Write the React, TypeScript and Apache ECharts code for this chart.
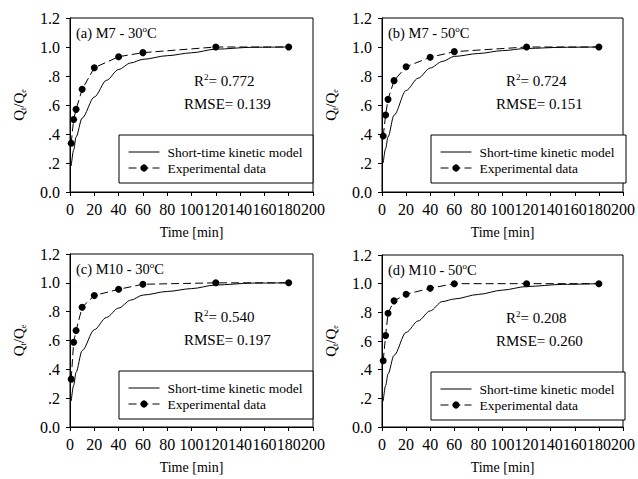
import React, { useEffect, useRef } from "react";
import * as echarts from "echarts";

const timeExp = [1, 3, 5, 10, 20, 40, 60, 120, 180];
const expA = [0.336, 0.5, 0.57, 0.708, 0.857, 0.933, 0.961, 1.0, 1.0];
const expB = [0.386, 0.531, 0.639, 0.768, 0.864, 0.929, 0.968, 1.0, 1.0];
const expC = [0.332, 0.588, 0.669, 0.831, 0.912, 0.955, 0.99, 1.0, 1.0];
const expD = [0.462, 0.638, 0.794, 0.88, 0.926, 0.968, 1.0, 1.0, 1.0];

const timeModel = [1, 3, 5, 10, 20, 30, 40, 50, 60, 80, 100, 120, 150, 180];
const modelA = [0.18, 0.29, 0.38, 0.51, 0.655, 0.77, 0.845, 0.89, 0.915, 0.94, 0.96, 0.985, 0.998, 1.0];
const modelB = [0.2, 0.3, 0.38, 0.53, 0.7, 0.785, 0.855, 0.9, 0.935, 0.955, 0.975, 0.99, 0.998, 1.0];
const modelC = [0.18, 0.29, 0.38, 0.53, 0.675, 0.76, 0.825, 0.88, 0.915, 0.94, 0.96, 0.985, 0.998, 1.0];
const modelD = [0.18, 0.29, 0.37, 0.5, 0.66, 0.74, 0.81, 0.875, 0.893, 0.925, 0.955, 0.98, 0.995, 1.0];

const panelLabels = ["(a) M7 - 30", "(b) M7 - 50", "(c) M10 - 30", "(d) M10 - 50"];
const r2Values = ["0.772", "0.724", "0.540", "0.208"];
const rmseValues = ["0.139", "0.151", "0.197", "0.260"];
const xTicks = { min: 0, max: 200, interval: 20 };
const yTicks = { min: 0, max: 1.2, interval: 0.2 };
const seriesNames = ["Short-time kinetic model", "Experimental data"];

const expSets = [expA, expB, expC, expD];
const modelSets = [modelA, modelB, modelC, modelD];

const FONT = "Liberation Serif";

const grids = [
  { left: 70, top: 18, width: 243, height: 174 },
  { left: 382, top: 18, width: 244, height: 174 },
  { left: 70, top: 254, width: 243, height: 173 },
  { left: 382, top: 255, width: 243, height: 172 },
];

const richSup = {
  sup: { fontSize: 9, verticalAlign: "top", lineHeight: 17, fontFamily: FONT, color: "#000" },
};

export default function App() {
  const ref = useRef<HTMLDivElement>(null);
  useEffect(() => {
    if (!ref.current) return;
    const chart = echarts.init(ref.current, undefined, { renderer: "svg" });

    const xAxis = grids.map((_, i) => ({
      type: "value",
      gridIndex: i,
      min: xTicks.min,
      max: xTicks.max,
      interval: xTicks.interval,
      name: "Time [min]",
      nameLocation: "middle",
      nameGap: 33,
      nameTextStyle: { fontFamily: FONT, fontSize: 14, color: "#000" },
      axisLine: { lineStyle: { color: "#000", width: 1 } },
      axisTick: { show: true, inside: false, length: 4, lineStyle: { color: "#000" } },
      axisLabel: { fontFamily: FONT, fontSize: 16, color: "#000", margin: 9 },
      splitLine: { show: false },
    }));

    const yAxis = grids.map((_, i) => ({
      type: "value",
      gridIndex: i,
      min: yTicks.min,
      max: yTicks.max,
      interval: yTicks.interval,
      name: "Q{sub|t}/Q{sub|e}",
      nameLocation: "middle",
      nameRotate: 90,
      nameGap: 43,
      nameTextStyle: {
        fontFamily: FONT,
        fontSize: 15,
        color: "#000",
        lineHeight: 17,
        rich: {
          sub: { fontSize: 8, verticalAlign: "bottom", lineHeight: 17, fontFamily: FONT, color: "#000" },
        },
      },
      axisLine: { lineStyle: { color: "#000", width: 1 } },
      axisTick: { show: true, inside: false, length: 4, lineStyle: { color: "#000" } },
      axisLabel: {
        fontFamily: FONT,
        fontSize: 16,
        color: "#000",
        margin: 10,
        formatter: (v: number) => {
          const s = v.toFixed(1);
          return v > 0 && v < 1 ? s.slice(1) : s;
        },
      },
      splitLine: { show: false },
    }));

    const series: any[] = [];
    grids.forEach((_, i) => {
      series.push({
        name: seriesNames[0],
        type: "line",
        xAxisIndex: i,
        yAxisIndex: i,
        symbol: "none",
        smooth: 0.3,
        smoothMonotone: "x",
        lineStyle: { color: "#000", width: 1 },
        itemStyle: { color: "#000" },
        data: timeModel.map((t, k) => [t, modelSets[i][k]]),
        z: 2,
      });
      series.push({
        name: seriesNames[1],
        type: "line",
        xAxisIndex: i,
        yAxisIndex: i,
        symbol: "circle",
        symbolSize: 7,
        lineStyle: { color: "#000", width: 1, type: [8, 4] },
        itemStyle: { color: "#000" },
        data: timeExp.map((t, k) => [t, expSets[i][k]]),
        z: 3,
      });
    });

    const legend = grids.map((g) => ({
      data: [
        { name: seriesNames[0], itemStyle: { opacity: 0 } },
        { name: seriesNames[1] },
      ],
      orient: "vertical",
      left: g.left + 58,
      top: g.top + 127,
      itemWidth: 31,
      itemHeight: 9,
      itemGap: 2,
      padding: 0,
      selectedMode: false,
      lineStyle: { width: 1 },
      textStyle: { fontFamily: FONT, fontSize: 13.5, color: "#000", padding: [0, 0, 0, 3] },
    }));

    const title: any[] = [];
    grids.forEach((g, i) => {
      title.push({
        text: panelLabels[i] + "{sup|o}C",
        left: g.left + 6,
        top: g.top + 6,
        padding: 0,
        textStyle: { fontFamily: FONT, fontSize: 14.5, fontWeight: "normal", color: "#000", lineHeight: 17, rich: richSup },
      });
      title.push({
        text: "R{sup|2}= " + r2Values[i],
        left: g.left + 124,
        top: g.top + 54,
        padding: 0,
        textStyle: { fontFamily: FONT, fontSize: 15, fontWeight: "normal", color: "#000", lineHeight: 17, rich: richSup },
      });
      title.push({
        text: "RMSE= " + rmseValues[i],
        left: g.left + 114,
        top: g.top + 77,
        padding: 0,
        textStyle: { fontFamily: FONT, fontSize: 15, fontWeight: "normal", color: "#000", lineHeight: 17 },
      });
    });

    const graphic = grids.map((g) => ({
      type: "rect",
      shape: { x: g.left + 49, y: g.top + 117, width: g.width - 49, height: 48 },
      style: { fill: "#fff", stroke: "#000", lineWidth: 1 },
      z: 1,
    }));

    chart.setOption({
      animation: false,
      backgroundColor: "#fff",
      textStyle: { fontFamily: FONT },
      grid: grids.map((g) => ({ ...g, show: true, borderColor: "#000", borderWidth: 1, backgroundColor: "transparent" })),
      xAxis,
      yAxis,
      series,
      legend,
      title,
      graphic,
    } as any);

    return () => chart.dispose();
  }, []);

  return <div ref={ref} style={{ position: "fixed", left: 0, top: 0, width: 638, height: 479 }} />;
}
